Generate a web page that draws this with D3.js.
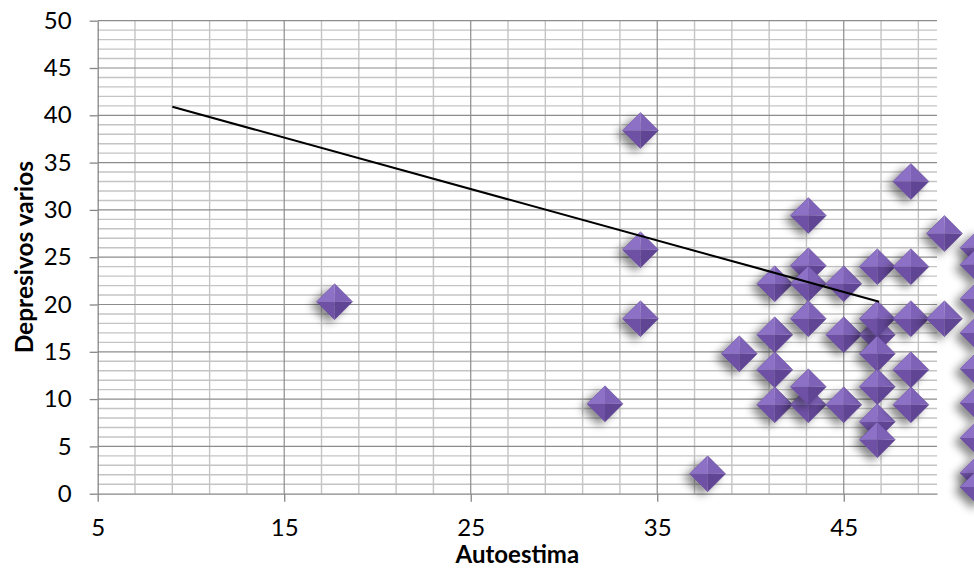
<!DOCTYPE html>
<html>
<head>
<meta charset="utf-8">
<script src="https://cdn.jsdelivr.net/npm/d3@7"></script>
<style>
    body { margin: 0; background: #fff; }
    svg { display: block; font-family: Lato, "Open Sans", sans-serif; }
</style>
</head>
<body>
<div id="chart"></div>
<script>
// Autoestima (x) and Depresivos varios (y)
const autoestima = [
    17.7, 32.2, 34.1, 34.1, 34.1, 37.7, 39.4,
    41.3, 41.3, 41.3, 41.3,
    43.1, 43.1, 43.1, 43.1, 43.1, 43.1,
    45.0, 45.0, 45.0,
    46.8, 46.8, 46.8, 46.8, 46.8, 46.8, 46.8,
    48.6, 48.6, 48.6, 48.6, 48.6,
    50.4, 50.4,
    52.2, 52.2, 52.2, 52.2, 52.2, 52.2, 52.2, 52.2, 52.2
];
const depresivos = [
    20.3, 9.5, 38.4, 25.8, 18.5, 2.1, 14.8,
    22.2, 16.8, 13.1, 9.4,
    29.4, 24.1, 9.4, 11.3, 22.2, 18.5,
    22.2, 16.8, 9.4,
    16.8, 24.0, 18.5, 14.8, 11.3, 7.6, 5.7,
    33.0, 24.0, 18.5, 13.1, 9.4,
    27.5, 18.5,
    26.0, 24.2, 20.6, 17.0, 13.2, 9.6, 5.9, 2.2, 0.7
];

// straight line drawn over the points
const lineX = [9.0, 46.9];
const lineY = [40.9, 20.3];

const xTicks = [5, 15, 25, 35, 45];
const yTicks = [0, 5, 10, 15, 20, 25, 30, 35, 40, 45, 50];

const xTitle = 'Autoestima';
const yTitle = 'Depresivos varios';

const scatterChart = (props) => {
    const {
        container,
        width: svgWidth,
        height: svgHeight,
        xs,
        ys
    } = props;

    const margin = { top: 20.7, left: 97.7 };
    const width = 839.3;
    const height = 473;

    const svg = d3.select(container)
        .append('svg')
        .attr('width', svgWidth)
        .attr('height', svgHeight);

    const defs = svg.append('defs');
    defs.append('filter')
        .attr('id', 'shadow')
        .attr('x', '-80%').attr('y', '-80%')
        .attr('width', '260%').attr('height', '260%')
        .append('feDropShadow')
        .attr('dx', -6)
        .attr('dy', 4)
        .attr('stdDeviation', 4)
        .attr('flood-color', '#000')
        .attr('flood-opacity', 0.45);

    const bounds = svg.append('g')
        .attr('transform', `translate(${margin.left}, ${margin.top})`);

    const xScale = d3.scaleLinear()
        .domain([5, 50])
        .range([0, width]);

    const yScale = d3.scaleLinear()
        .domain([0, 50])
        .range([height, 0]);

    // minor gridlines
    const minorX = d3.range(7, 50, 2).filter(v => (v - 5) % 10 !== 0);
    const minorY = d3.range(0, 51, 1).filter(v => v % 5 !== 0);

    bounds.append('g')
        .selectAll('line')
        .data(minorX)
        .join('line')
        .attr('x1', d => xScale(d)).attr('x2', d => xScale(d))
        .attr('y1', 0).attr('y2', height)
        .style('stroke', '#c4c4c4')
        .style('stroke-width', 1.4);

    bounds.append('g')
        .selectAll('line')
        .data(minorY)
        .join('line')
        .attr('x1', 0).attr('x2', width)
        .attr('y1', d => yScale(d)).attr('y2', d => yScale(d))
        .style('stroke', '#c4c4c4')
        .style('stroke-width', 1.4);

    // major gridlines
    bounds.append('g')
        .selectAll('line')
        .data(xTicks.filter(v => v !== 5))
        .join('line')
        .attr('x1', d => xScale(d)).attr('x2', d => xScale(d))
        .attr('y1', 0).attr('y2', height)
        .style('stroke', '#8c8c8c')
        .style('stroke-width', 1.2);

    bounds.append('g')
        .selectAll('line')
        .data(yTicks.filter(v => v !== 0))
        .join('line')
        .attr('x1', 0).attr('x2', width)
        .attr('y1', d => yScale(d)).attr('y2', d => yScale(d))
        .style('stroke', '#8c8c8c')
        .style('stroke-width', 1.2);

    const xAxisGroup = bounds.append('g')
        .attr('class', 'x axis')
        .attr('transform', `translate(0, ${height})`)
        .call(d3.axisBottom(xScale)
            .tickValues(xTicks)
            .tickSizeInner(8)
            .tickSizeOuter(0)
            .tickPadding(17)
            .tickFormat(d => d));

    const yAxisGroup = bounds.append('g')
        .attr('class', 'y axis')
        .call(d3.axisLeft(yScale)
            .tickValues(yTicks)
            .tickSizeInner(8)
            .tickSizeOuter(0)
            .tickPadding(18)
            .tickFormat(d => d));

    [xAxisGroup, yAxisGroup].forEach(g => {
        g.attr('font-family', null);
        g.select('.domain').style('stroke', '#868686').style('stroke-width', 1.3);
        g.selectAll('.tick line').style('stroke', '#868686').style('stroke-width', 1.3);
        g.selectAll('.tick text')
            .style('font-family', 'Lato, "Open Sans", sans-serif')
            .style('font-size', '24px')
            .style('fill', '#000');
    });

    // markers
    const r = 18;
    const points = xs.map((x, i) => ({ x, y: ys[i] }));
    const facets = [
        { d: `M${-r},0L0,${-r}L0,0Z`, fill: '#8d71c6' },
        { d: `M0,${-r}L${r},0L0,0Z`, fill: '#7e62b8' },
        { d: `M${-r},0L0,${r}L0,0Z`, fill: '#6e51a5' },
        { d: `M0,${r}L${r},0L0,0Z`, fill: '#604594' }
    ];

    const markers = bounds.append('g')
        .selectAll('.marker')
        .data(points)
        .join('g')
        .attr('class', 'marker')
        .attr('transform', d => `translate(${xScale(d.x)}, ${yScale(d.y)})`)
        .style('filter', 'url(#shadow)');

    facets.forEach(f => {
        markers.append('path')
            .attr('d', f.d)
            .style('fill', f.fill);
    });
    markers.append('path')
        .attr('d', `M${-r},0L0,${-r}L${r},0L0,${r}Z`)
        .style('fill', 'none')
        .style('stroke', '#5a3f8c')
        .style('stroke-width', 0.8)
        .style('stroke-opacity', 0.6);

    const lineGenerator = d3.line()
        .x(d => xScale(d[0]))
        .y(d => yScale(d[1]));

    bounds.append('path')
        .attr('class', 'trend')
        .attr('d', lineGenerator(lineX.map((x, i) => [x, lineY[i]])))
        .style('fill', 'none')
        .style('stroke', '#000')
        .style('stroke-width', 2);

    svg.append('text')
        .attr('x', margin.left + width / 2)
        .attr('y', 563)
        .attr('text-anchor', 'middle')
        .style('font-size', '24px')
        .style('font-weight', 'bold')
        .text(xTitle);

    svg.append('text')
        .attr('transform', `translate(33, ${margin.top + height / 2}) rotate(-90)`)
        .attr('text-anchor', 'middle')
        .style('font-size', '24.5px')
        .style('font-weight', 'bold')
        .text(yTitle);
};

scatterChart({
    container: '#chart',
    width: 974,
    height: 578,
    xs: autoestima,
    ys: depresivos
});
</script>
</body>
</html>
